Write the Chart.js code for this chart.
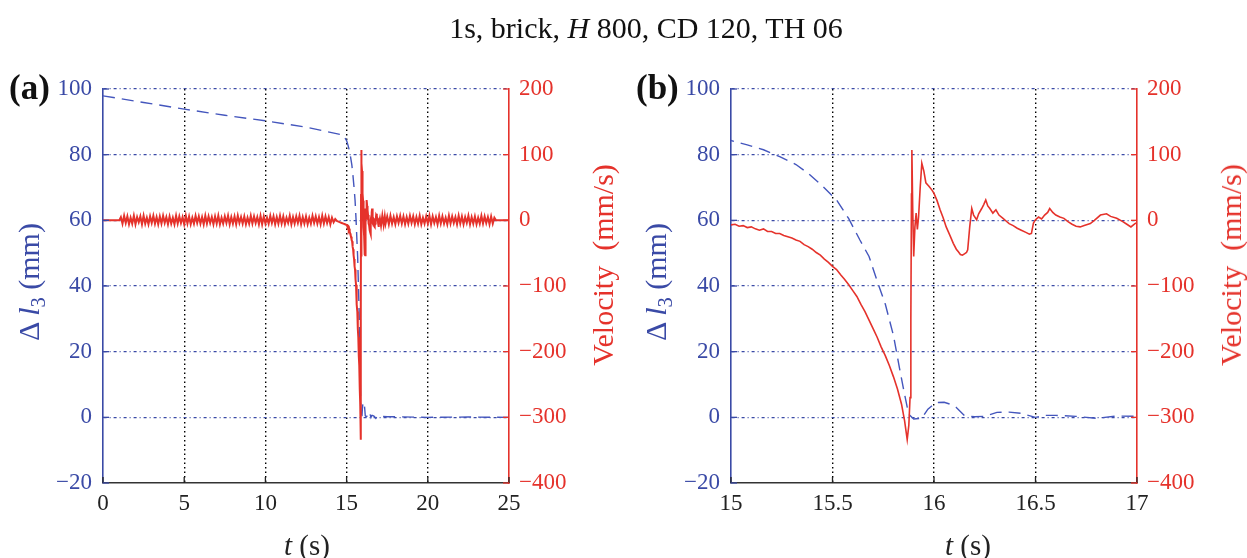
<!DOCTYPE html>
<html>
<head>
<meta charset="utf-8">
<script src="https://cdn.jsdelivr.net/npm/chart.js@4.4.0/dist/chart.umd.min.js"></script>
<style>
  html,body{margin:0;padding:0;background:#fff;}
  body{width:1247px;height:558px;overflow:hidden;position:relative;font-family:"Liberation Serif","DejaVu Serif",serif;}
  canvas{position:absolute;top:0;}
  #ca{left:0;}
  #cb{left:623px;}
  .t{position:absolute;white-space:nowrap;line-height:1;z-index:5;}
  .rot{transform:translate(-50%,-50%) rotate(-90deg);}
  .hc{transform:translate(-50%,-50%);}
  .blue{color:#3a4aa6;}
  .red{color:#e5322b;}
  sub{font-size:0.68em;vertical-align:-0.28em;line-height:0;}
</style>
</head>
<body>
<canvas id="ca" width="623" height="558"></canvas>
<canvas id="cb" width="624" height="558"></canvas>

<div class="t hc" style="left:646px;top:28px;font-size:30px;color:#111;">1s, brick, <i>H</i> 800, CD 120, TH 06</div>
<div class="t" style="left:9px;top:70px;font-size:35px;font-weight:bold;color:#111;">(a)</div>
<div class="t" style="left:636px;top:70px;font-size:35px;font-weight:bold;color:#111;">(b)</div>
<div class="t rot blue" style="left:29px;top:282px;font-size:30px;">Δ <i>l</i><sub>3</sub> (mm)</div>
<div class="t rot blue" style="left:656px;top:282px;font-size:30px;">Δ <i>l</i><sub>3</sub> (mm)</div>
<div class="t rot red" style="left:603px;top:265px;font-size:30px;">Velocity&nbsp;&nbsp;(mm/s)</div>
<div class="t rot red" style="left:1231px;top:265px;font-size:30px;">Velocity&nbsp;&nbsp;(mm/s)</div>
<div class="t hc" style="left:307px;top:545px;font-size:29px;color:#222;"><i>t</i> (s)</div>
<div class="t hc" style="left:968px;top:545px;font-size:29px;color:#222;"><i>t</i> (s)</div>

<script>
// ---------- tick values ----------
const xTicksA = [0, 5, 10, 15, 20, 25];
const xTicksB = [15, 15.5, 16, 16.5, 17];
const dispTicks = [-20, 0, 20, 40, 60, 80, 100];
const velTicks = [-400, -300, -200, -100, 0, 100, 200];

// ---------- displacement Δl3 (mm) ----------
const dispEarlyT = [0, 2.5, 5.1, 7.5, 10, 12.5, 14.77];
const dispEarlyV = [97.9, 95.9, 93.8, 92.0, 90.3, 88.4, 86.0];
const dispZoomT = [15.00, 15.08, 15.16, 15.24, 15.32, 15.38, 15.45, 15.52, 15.58, 15.635, 15.68, 15.72, 15.76, 15.80, 15.83, 15.855, 15.875, 15.90, 15.94, 15.97, 16.01, 16.05, 16.08, 16.11, 16.15, 16.20, 16.25, 16.31, 16.37, 16.43, 16.50, 16.55, 16.60, 16.70, 16.80, 16.90, 17.00];
const dispZoomV = [84.3, 83.0, 81.5, 79.4, 77.0, 74.3, 70.5, 66.2, 60.5, 54.0, 49.0, 41.5, 34.5, 25.0, 15.0, 7.0, 1.0, -0.5, -0.3, 2.5, 4.5, 4.6, 4.0, 3.0, 0.5, 0.2, 0.3, 1.5, 1.6, 1.2, 0.0, 0.6, 0.6, 0.3, -0.3, 0.4, 0.3];
const dispLateT = [17.5, 20, 22.5, 25];
const dispLateV = [0.2, 0.0, 0.1, 0.0];

// ---------- velocity (mm/s) ----------
const velLeadT = [0, 1.0];
const velLeadV = [0, 0];
// quantisation noise band, sampled every 0.1 s starting at 1.1 s
const noiseEarlyStart = 1.1, noiseStep = 0.1;
const noiseEarlyV = [5,-5,7,-4,6,-6,4,-5,7,-6, 5,-3,6,-6,7,-5,4,-6,6,-4, 7,-5,5,-6,6,-5,7,-4,5,-6,
  6,-5,4,-6,7,-5,6,-4,5,-6, 7,-5,6,-6,4,-5,7,-4,6,-5, 5,-6,7,-5,6,-4,5,-6,6,-5, 7,-6,4,-5,6,-4,7,-6,5,-5,
  6,-6,7,-4,5,-5,6,-6,4,-5, 7,-5,6,-4,5,-6,7,-6,6,-5, 4,-5,7,-4,6,-6,5,-5,7,-5, 6,-6,4,-4,7,-6,5,-5,6,-4,
  7,-6,5,-5,6,-6,4,-5,7,-4, 6,-5,5,-6,7,-5,6,-4,5,-6, 4,-3,2];
const velPreT = [14.4, 14.5, 14.6, 14.7, 14.8, 14.9];
const velPreV = [-1, -2, -3, -4, -5, -6];
const velZoomT = [15.00,15.02,15.04,15.06,15.08,15.10,15.12,15.14,15.16,15.18,15.20,15.22,15.24,15.26,15.28,15.30,15.32,15.34,15.36,15.38,
  15.40,15.42,15.44,15.46,15.48,15.50,15.52,15.54,15.56,15.58,15.60,15.62,15.64,15.66,15.68,15.70,15.72,15.74,15.76,15.78,
  15.80,15.82,15.84,15.855,15.868,15.876,15.882,15.886,15.889,15.891,15.895,15.900,15.906,15.912,15.918,15.924,15.932,15.940,15.950,15.960,
  15.975,15.990,16.000,16.015,16.030,16.045,16.060,16.080,16.095,16.110,16.120,16.130,16.140,16.150,16.160,16.166,16.176,16.186,16.195,16.210,
  16.220,16.235,16.245,16.255,16.265,16.275,16.290,16.305,16.320,16.340,16.355,16.370,16.390,16.410,16.430,16.450,16.470,16.480,16.490,16.500,
  16.515,16.530,16.545,16.560,16.570,16.585,16.600,16.620,16.640,16.660,16.680,16.700,16.720,16.740,16.770,16.790,16.820,16.850,16.870,16.900,
  16.930,16.950,16.970,16.990];
const velZoomV = [-7,-6,-9,-8,-11,-10,-13,-15,-13,-17,-17,-20,-20,-23,-25,-27,-30,-32,-37,-40,
  -44,-49,-53,-59,-64,-70,-75,-83,-90,-98,-107,-116,-128,-139,-152,-165,-178,-193,-206,-221,
  -238,-257,-280,-305,-334,-312,-270,-150,40,107,20,-55,-10,11,-14,5,50,87,75,57,
  52,46,41,30,16,4,-10,-24,-35,-44,-48,-52,-53,-51,-49,-45,-10,18,8,1,
  10,18,24,31,22,18,11,16,8,3,-1,-5,-8,-12,-15,-18,-21,-20,-4,1,
  5,2,8,12,18,12,8,5,3,-2,-6,-9,-10,-8,-5,0,8,10,6,3,
  -2,-6,-10,-5];
const velDecayT = [17.05, 17.12, 17.20, 17.28, 17.35];
const velDecayV = [3, -8, 7, -7, 6];
const noiseLateStart = 17.4;
const noiseLateV = [-5,6,-6,7,-5,5,-6,6,-4,7, -5,6,-6,5,-5,7,-4,6,-6,5, -5,7,-6,4,-5,6,-5,7,-6,6,
  -4,5,-6,7,-5,6,-5,4,-6,7, -5,6,-4,5,-6,7,-5,6,-6,5, -4,7,-6,5,-5,6,-6,4,-5,7, -5,6,-4,5,-6,6,-5,4,0];
const velTailT = [25];
const velTailV = [0];

// ---------- styling ----------
const BLUE = '#3a4aa6', BLUE_LINE = '#4456bd', RED = '#e5322b', BLACK = '#222';
const FONT = {family: '"Liberation Serif", "DejaVu Serif", serif', size: 23};

function pts(T, V) { return T.map((t, i) => ({x: t, y: V[i]})); }
function sampled(start, V) { return V.map((v, i) => ({x: +(start + i * noiseStep).toFixed(3), y: v})); }

const dispA = [].concat(pts(dispEarlyT, dispEarlyV), pts(dispZoomT, dispZoomV), pts(dispLateT, dispLateV));
const velA = [].concat(pts(velLeadT, velLeadV), sampled(noiseEarlyStart, noiseEarlyV), pts(velPreT, velPreV),
  pts(velZoomT, velZoomV), pts(velDecayT, velDecayV), sampled(noiseLateStart, noiseLateV), pts(velTailT, velTailV));
const dispB = [].concat(pts(dispEarlyT, dispEarlyV), pts(dispZoomT, dispZoomV), pts(dispLateT, dispLateV));
const velB = [].concat(pts(velPreT, velPreV), pts(velZoomT, velZoomV), pts(velDecayT, velDecayV));

const inwardTicks = {
  id: 'inwardTicks',
  afterDatasetsDraw(chart) {
    const ctx = chart.ctx, a = chart.chartArea, L = 6;
    const {x, y, y2} = chart.scales;
    ctx.save();
    ctx.setLineDash([]);
    ctx.lineWidth = 1.3;
    const seg = (x1, y1, x2, y2_, c) => { ctx.strokeStyle = c; ctx.beginPath(); ctx.moveTo(x1, y1); ctx.lineTo(x2, y2_); ctx.stroke(); };
    x.ticks.forEach(t => { const p = x.getPixelForValue(t.value); seg(p, a.bottom, p, a.bottom - L, BLACK); });
    y.ticks.forEach(t => { const p = y.getPixelForValue(t.value); seg(a.left, p, a.left + L, p, BLUE); });
    y2.ticks.forEach(t => { const p = y2.getPixelForValue(t.value); seg(a.right - L, p, a.right, p, RED); });
    ctx.restore();
  }
};

function makeChart(id, xTicks, xMin, xMax, leftW, rightW, disp, vel, velWidth) {
  const edgeHide = (min, max, col) => (c) => (c.tick && (c.tick.value === min || c.tick.value === max)) ? 'rgba(0,0,0,0)' : col;
  return new Chart(document.getElementById(id), {
    type: 'line',
    data: {
      datasets: [
        {data: vel, yAxisID: 'y2', borderColor: RED, borderWidth: velWidth, pointRadius: 0, tension: 0, fill: false, order: 1},
        {data: disp, yAxisID: 'y', borderColor: BLUE_LINE, borderWidth: 1.4, borderDash: [12, 7], pointRadius: 0, tension: 0, fill: false, order: 2}
      ]
    },
    options: {
      responsive: false,
      animation: false,
      events: [],
      layout: {padding: {top: 89, left: 0, right: 0, bottom: 0}},
      plugins: {legend: {display: false}, tooltip: {enabled: false}, title: {display: false}},
      scales: {
        x: {
          type: 'linear', min: xMin, max: xMax,
          afterBuildTicks: s => { s.ticks = xTicks.map(v => ({value: v})); },
          afterFit: s => { s.height = 75; },
          ticks: {color: BLACK, font: FONT, padding: 7, maxRotation: 0, autoSkip: false, callback: v => String(v)},
          grid: {color: edgeHide(xMin, xMax, '#000'), lineWidth: 1.4, drawTicks: false},
          border: {display: true, color: '#333', width: 1.6, dash: [1.5, 3]}
        },
        y: {
          type: 'linear', position: 'left', min: -20, max: 100,
          afterBuildTicks: s => { s.ticks = dispTicks.map(v => ({value: v})); },
          afterFit: s => { s.width = leftW; },
          ticks: {color: BLUE, font: FONT, padding: 11, callback: v => (v < 0 ? '\u2212' + Math.abs(v) : String(v))},
          grid: {color: edgeHide(-20, -999, BLUE), lineWidth: 1.2, drawTicks: false},
          border: {display: true, color: BLUE, width: 1.6, dash: [3, 3, 1, 3]}
        },
        y2: {
          type: 'linear', position: 'right', min: -400, max: 200,
          afterBuildTicks: s => { s.ticks = velTicks.map(v => ({value: v})); },
          afterFit: s => { s.width = rightW; },
          ticks: {color: RED, font: FONT, padding: 10, callback: v => (v < 0 ? '\u2212' + Math.abs(v) : String(v))},
          grid: {drawOnChartArea: false, drawTicks: false},
          border: {display: true, color: RED, width: 1.6}
        }
      }
    },
    plugins: [inwardTicks]
  });
}

makeChart('ca', xTicksA, 0, 25, 103, 114, dispA, velA, 2);
makeChart('cb', xTicksB, 15, 17, 108, 110, dispB, velB, 1.6);
</script>
</body>
</html>
